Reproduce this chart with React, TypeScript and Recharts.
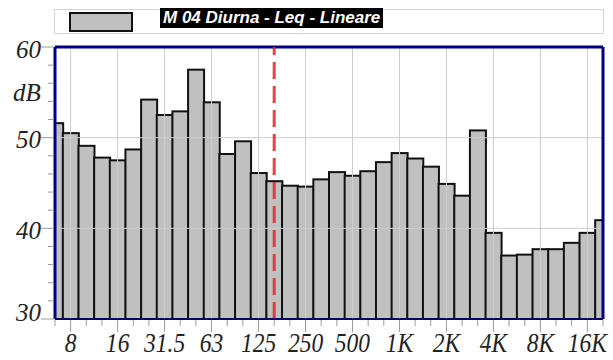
import React from 'react';
import { BarChart, Bar, XAxis, YAxis, ReferenceLine } from 'recharts';

// third-octave bands, 6.3 Hz .. 20 kHz
const bands = [
  '6.3', '8', '10', '12.5', '16', '20', '25', '31.5', '40', '50', '63', '80',
  '100', '125', '160', '200', '250', '315', '400', '500', '630', '800', '1K', '1.25K',
  '1.6K', '2K', '2.5K', '3.15K', '4K', '5K', '6.3K', '8K', '10K', '12.5K', '16K', '20K',
];
const leq = [
  51.6, 50.5, 49.1, 47.8, 47.5, 48.7, 54.2, 52.5, 52.9, 57.5, 53.9, 48.2,
  49.6, 46.1, 45.2, 44.7, 44.6, 45.4, 46.2, 45.8, 46.3, 47.3, 48.3, 47.7,
  46.8, 44.9, 43.6, 50.8, 39.5, 37.0, 37.1, 37.7, 37.7, 38.4, 39.5, 40.9,
];
const tickLabels = ['8', '16', '31.5', '63', '125', '250', '500', '1K', '2K', '4K', '8K', '16K'];
const yTicks = [30, 32, 34, 36, 38, 40, 42, 44, 46, 48, 50, 52, 54, 56, 58, 60];
const yLabels = [30, 40, 50, 60];
const gridY = [40, 50];
const markerBand = '160';

const data = bands.map((band, i) => ({ band, leq: leq[i] }));

const W = 613;
const H = 360;
const MARGIN = { top: 47, right: 10, bottom: 0, left: 0 };
const Y_AXIS_W = 55;
const X_AXIS_H = 41;
// plot area edges, used to clip the half bars at both ends
const PLOT_L = MARGIN.left + Y_AXIS_W;
const PLOT_R = W - MARGIN.right;
const PLOT_T = MARGIN.top;
const PLOT_B = H - MARGIN.bottom - X_AXIS_H;

const serif = '"Liberation Serif", "Times New Roman", serif';
const navy = '#000080';

const ClippedBar = (props: any) => {
  const { x, y, width, height, index, fill } = props;
  const id = `bar-clip-${index}`;
  return (
    <g>
      <clipPath id={id}>
        <rect x={PLOT_L} y={PLOT_T - 5} width={PLOT_R - PLOT_L} height={PLOT_B - PLOT_T + 10} />
      </clipPath>
      <rect x={x} y={y} width={width} height={height} fill={fill} stroke="#111" strokeWidth={2}
        clipPath={`url(#${id})`} />
    </g>
  );
};

const XTick = (props: any) => {
  const { x, y, payload } = props;
  const major = tickLabels.includes(payload.value);
  return (
    <g>
      <line x1={x} x2={x} y1={y + 1} y2={y + (major ? 13 : 7)} stroke="#9a9a9a" strokeWidth={1} />
      {major && (
        <g transform={`translate(${x},${y + 33}) scale(0.84,1)`}>
          <text textAnchor="middle" fontFamily={serif} fontStyle="italic" fontSize={28} fill="#222">
            {payload.value}
          </text>
        </g>
      )}
    </g>
  );
};

const YTick = (props: any) => {
  const { x, y, payload } = props;
  const major = yLabels.includes(payload.value);
  return (
    <g>
      <line x1={x - (major ? 14 : 7)} x2={x - 1} y1={y} y2={y} stroke="#9a9a9a" strokeWidth={1} />
      {major && (
        <text x={41} y={payload.value === 30 ? y - 7 : y + 2} dy="0.35em" textAnchor="end"
          fontFamily={serif} fontStyle="italic" fontSize={25} fill="#222">
          {payload.value}
        </text>
      )}
    </g>
  );
};

export default function App() {
  return (
    <div style={{ position: 'absolute', left: 0, top: 0, width: W, height: H, background: '#fff' }}>
      {/* legend */}
      <div style={{ position: 'absolute', left: 54, top: 9, width: 548, height: 23, border: '1px solid #d4d4d4' }} />
      <div style={{ position: 'absolute', left: 69, top: 12, width: 60, height: 16, background: '#c0c0c0', border: '2px solid #111' }} />
      <div style={{
        position: 'absolute', left: 160, top: 8, height: 20, lineHeight: '20px', padding: '0 3px',
        background: '#000', color: '#fff', fontFamily: '"Liberation Sans", Arial, sans-serif',
        fontWeight: 'bold', fontStyle: 'italic', fontSize: 17,
      }}>
        M 04 Diurna - Leq - Lineare
      </div>
      <div style={{
        position: 'absolute', left: 13, top: 79, fontFamily: serif, fontStyle: 'italic', fontSize: 25, color: '#222',
      }}>
        dB
      </div>

      <BarChart
        width={W}
        height={H}
        data={data}
        margin={MARGIN}
        barCategoryGap={0}
        barGap={0}
      >
        <XAxis
          dataKey="band"
          interval={0}
          height={X_AXIS_H}
          padding={{ left: -7.83, right: -7.83 }}
          tickSize={0}
          tickMargin={0}
          axisLine={{ stroke: navy, strokeWidth: 1.5 }}
          tickLine={false}
          tick={<XTick />}
        />
        <YAxis
          width={Y_AXIS_W}
          domain={[30, 60]}
          ticks={yTicks}
          interval={0}
          tickSize={0}
          tickMargin={0}
          axisLine={{ stroke: navy, strokeWidth: 3 }}
          tickLine={false}
          tick={<YTick />}
        />
        {tickLabels.map((t) => (
          <ReferenceLine key={t} x={t} stroke="#cdcdcd" strokeWidth={1} />
        ))}
        {gridY.map((v) => (
          <ReferenceLine key={v} y={v} stroke="#cdcdcd" strokeWidth={1} />
        ))}
        {/* frame: top and right edges */}
        <ReferenceLine y={60} stroke={navy} strokeWidth={3} />
        <ReferenceLine x={bands[bands.length - 1]} stroke={navy} strokeWidth={3} />
        <Bar dataKey="leq" fill="#c0c0c0" shape={<ClippedBar />} isAnimationActive={false} />
        <ReferenceLine x={markerBand} stroke="#e3242b" strokeOpacity={0.85} strokeWidth={3} strokeDasharray="17 7" />
      </BarChart>
    </div>
  );
}
